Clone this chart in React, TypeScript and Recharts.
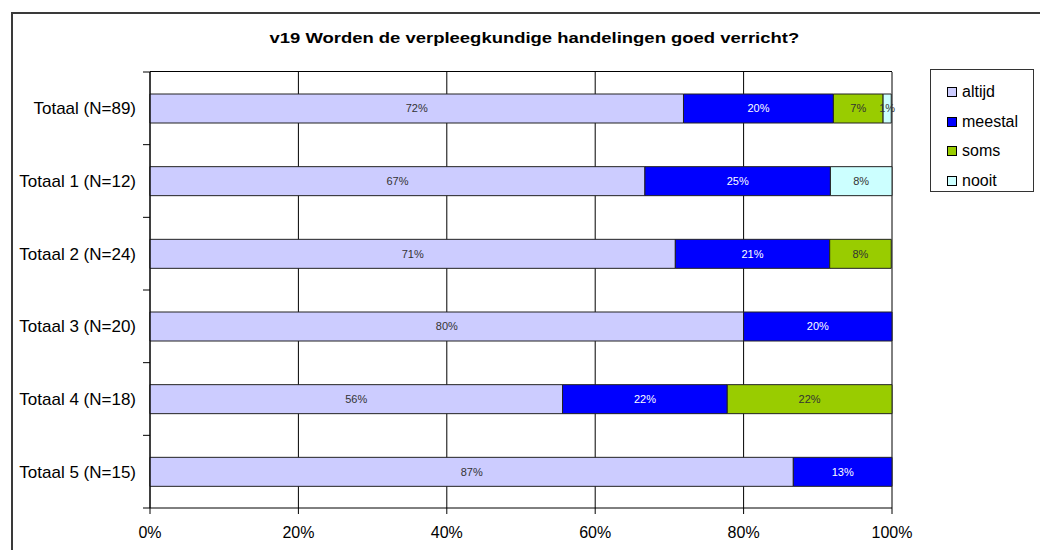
import React from 'react';
import { BarChart, Bar, XAxis, YAxis, CartesianGrid, LabelList } from 'recharts';

// groups (rows) and share per answer, in percent
const categories = ['Totaal (N=89)', 'Totaal 1 (N=12)', 'Totaal 2 (N=24)', 'Totaal 3 (N=20)', 'Totaal 4 (N=18)', 'Totaal 5 (N=15)'];
const altijd = [71.9, 66.7, 70.8, 80.0, 55.6, 86.7];
const meestal = [20.2, 25.0, 20.8, 20.0, 22.2, 13.3];
const soms = [6.7, 0, 8.3, 0, 22.2, 0];
const nooit = [1.1, 8.3, 0, 0, 0, 0];
const xTicks = [0, 20, 40, 60, 80, 100];

const series = [
  { key: 'altijd', color: '#CCCCFF', label: '#333' },
  { key: 'meestal', color: '#0000FF', label: '#fff' },
  { key: 'soms', color: '#99CC00', label: '#333' },
  { key: 'nooit', color: '#CCFFFF', label: '#333' },
];

const data = categories.map((name, i) => ({
  name,
  altijd: altijd[i],
  meestal: meestal[i],
  soms: soms[i],
  nooit: nooit[i],
}));

const W = 1040;
const H = 550;
const margin = { top: 72, right: 148, bottom: 12, left: 10 };
const Y_W = 140;
const X_H = 30;
const plotW = W - margin.left - margin.right - Y_W;
const plotH = H - margin.top - margin.bottom - X_H;
const band = plotH / categories.length;
const font = '"Liberation Sans", Arial, sans-serif';

const pct = (v: any) => (v ? `${Math.round(Number(v))}%` : '');

// category label plus the small tick marks that sit between the rows
function YTick(props: any) {
  const { x, y, payload, index } = props;
  const last = index === categories.length - 1;
  return (
    <g>
      <line x1={x + 7} x2={x + 14} y1={y - band / 2} y2={y - band / 2} stroke="#000" />
      {last && <line x1={x + 7} x2={x + 14} y1={y + band / 2} y2={y + band / 2} stroke="#000" />}
      <text x={x} y={y} dy="0.35em" textAnchor="end" fontSize={17} fontFamily={font} fill="#000">
        {payload.value}
      </text>
    </g>
  );
}

export default function App() {
  return (
    <div style={{ position: 'absolute', left: 0, top: 0, width: W, height: H, overflow: 'hidden', background: '#fff', fontFamily: font }}>
      <div style={{ position: 'absolute', left: 11, top: 12, width: W + 20, height: H + 20, border: '2px solid #3a3a3a' }} />
      <div style={{ position: 'absolute', left: 0, top: 30, width: 1068, textAlign: 'center', fontWeight: 'bold', fontSize: 15, lineHeight: '15px', color: '#000' }}>
        <span style={{ display: 'inline-block', transform: 'scaleX(1.23)' }}>v19 Worden de verpleegkundige handelingen goed verricht?</span>
      </div>

      <div style={{ position: 'absolute', left: 0, top: 0 }}>
        <BarChart width={W} height={H} data={data} layout="vertical" margin={margin} barSize={29}>
          <CartesianGrid horizontal={false} stroke="#000" strokeWidth={1} />
          <XAxis
            type="number"
            domain={[0, 100]}
            ticks={xTicks}
            tickFormatter={(v) => `${v}%`}
            height={X_H}
            axisLine={{ stroke: '#000' }}
            tickLine={{ stroke: '#000' }}
            tickSize={6}
            tickMargin={13}
            tick={{ fontSize: 16, fill: '#000', fontFamily: font }}
          />
          <YAxis
            type="category"
            dataKey="name"
            width={Y_W}
            axisLine={{ stroke: '#000' }}
            tickLine={false}
            tickSize={6}
            tickMargin={8}
            tick={<YTick />}
            interval={0}
          />
          {series.map((s) => (
            <Bar key={s.key} dataKey={s.key} stackId="a" fill={s.color} stroke="#222" strokeWidth={1} isAnimationActive={false}>
              <LabelList dataKey={s.key} position="center" formatter={pct} fill={s.label} fontSize={11} fontFamily={font} />
            </Bar>
          ))}
        </BarChart>
      </div>

      {/* top edge of the plot frame */}
      <div style={{ position: 'absolute', left: margin.left + Y_W, top: margin.top - 1, width: plotW, height: 0, borderTop: '1px solid #000' }} />

      <div style={{ position: 'absolute', left: 930, top: 69, width: 102, height: 121, border: '1px solid #333', background: '#fff' }}>
        {series.map((s, i) => (
          <div key={s.key} style={{ position: 'absolute', left: 16, top: 13 + i * 29.7, height: 18, display: 'flex', alignItems: 'center', fontSize: 16, color: '#000' }}>
            <span style={{ display: 'inline-block', width: 8, height: 8, background: s.color, border: '1px solid #000', marginRight: 5 }} />
            {s.key}
          </div>
        ))}
      </div>
    </div>
  );
}
